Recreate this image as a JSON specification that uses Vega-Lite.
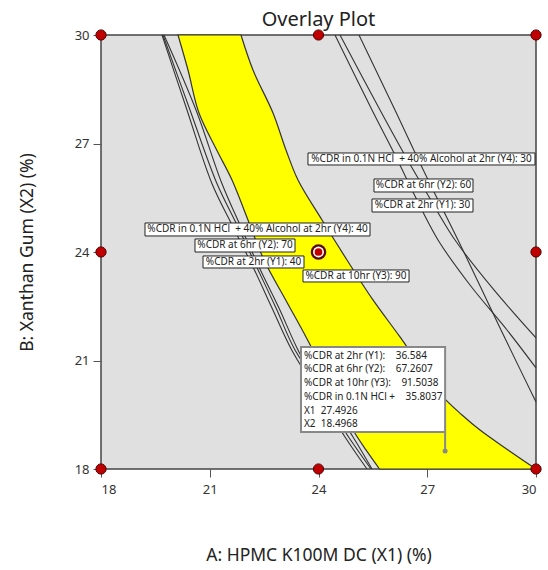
{
  "$schema": "https://vega.github.io/schema/vega-lite/v6.json",
  "width": 435,
  "height": 434,
  "autosize": {"type": "none"},
  "padding": {"left": 101, "top": 35, "right": 12, "bottom": 101},
  "background": "white",
  "title": {"text": "Overlay Plot", "fontSize": 20, "font": "Noto Sans", "fontWeight": "normal", "color": "#222", "offset": -2, "anchor": "middle"},
  "config": {
    "view": {"fill": "#e0e0e0", "stroke": "#444", "strokeWidth": 1.5},
    "font": "Noto Sans",
    "axis": {"grid": false, "domain": false, "tickColor": "#555", "tickSize": 8, "labelFontSize": 13, "labelColor": "#333", "titleFontSize": 17.5, "titleFontWeight": "normal", "titleColor": "#222", "labelFont": "Noto Sans", "titleFont": "Noto Sans"}
  },
  "datasets": {
    "region": [
      {"y": 30, "xl": 20.124, "xr": 21.862},
      {"y": 29.032, "xl": 20.4, "xr": 22.193},
      {"y": 27.843, "xl": 20.703, "xr": 22.745},
      {"y": 26.821, "xl": 21.192, "xr": 23.103},
      {"y": 25.991, "xl": 21.614, "xr": 23.434},
      {"y": 24.885, "xl": 22.055, "xr": 24.097},
      {"y": 23.779, "xl": 22.497, "xr": 24.786},
      {"y": 22.674, "xl": 23.095, "xr": 25.503},
      {"y": 21.651, "xl": 23.655, "xr": 26.248},
      {"y": 20.738, "xl": 24.124, "xr": 26.883},
      {"y": 19.992, "xl": 24.499, "xr": 27.434},
      {"y": 19.494, "xl": 24.748, "xr": 27.959},
      {"y": 19.079, "xl": 24.952, "xr": 28.455},
      {"y": 18.527, "xl": 25.31, "xr": 29.228},
      {"y": 18, "xl": 25.683, "xr": 30}
    ],
    "lines": [
      {"s": "L1", "o": 1, "x": 19.683, "y": 30},
      {"s": "L1", "o": 2, "x": 20.372, "y": 27.926},
      {"s": "L1", "o": 3, "x": 21.054, "y": 25.908},
      {"s": "L1", "o": 4, "x": 21.614, "y": 24.747},
      {"s": "L1", "o": 5, "x": 22.193, "y": 23.586},
      {"s": "L1", "o": 6, "x": 22.717, "y": 22.452},
      {"s": "L1", "o": 7, "x": 23.261, "y": 21.291},
      {"s": "L1", "o": 8, "x": 23.986, "y": 20.102},
      {"s": "L1", "o": 9, "x": 24.731, "y": 18.886},
      {"s": "L1", "o": 10, "x": 25.338, "y": 18},
      {"s": "L2", "o": 1, "x": 19.71, "y": 30},
      {"s": "L2", "o": 2, "x": 20.455, "y": 27.926},
      {"s": "L2", "o": 3, "x": 21.192, "y": 25.908},
      {"s": "L2", "o": 4, "x": 21.752, "y": 24.747},
      {"s": "L2", "o": 5, "x": 22.295, "y": 23.586},
      {"s": "L2", "o": 6, "x": 22.828, "y": 22.452},
      {"s": "L2", "o": 7, "x": 23.352, "y": 21.291},
      {"s": "L2", "o": 8, "x": 24.152, "y": 20.102},
      {"s": "L2", "o": 9, "x": 24.952, "y": 18.886},
      {"s": "L2", "o": 10, "x": 25.476, "y": 18},
      {"s": "L3", "o": 1, "x": 19.738, "y": 30},
      {"s": "L3", "o": 2, "x": 20.621, "y": 27.926},
      {"s": "L3", "o": 3, "x": 21.33, "y": 25.908},
      {"s": "L3", "o": 4, "x": 21.834, "y": 24.747},
      {"s": "L3", "o": 5, "x": 22.359, "y": 23.586},
      {"s": "L3", "o": 6, "x": 22.91, "y": 22.452},
      {"s": "L3", "o": 7, "x": 23.434, "y": 21.291},
      {"s": "L3", "o": 8, "x": 24.097, "y": 20.102},
      {"s": "L3", "o": 9, "x": 24.703, "y": 19.079},
      {"s": "L3", "o": 10, "x": 25.448, "y": 18},
      {"s": "R1", "o": 1, "x": 24.455, "y": 30},
      {"s": "R1", "o": 2, "x": 25.476, "y": 27.926},
      {"s": "R1", "o": 3, "x": 26.166, "y": 26.572},
      {"s": "R1", "o": 4, "x": 26.579, "y": 25.715},
      {"s": "R1", "o": 5, "x": 27.297, "y": 24.332},
      {"s": "R1", "o": 6, "x": 28.179, "y": 23.088},
      {"s": "R1", "o": 7, "x": 29.2, "y": 21.844},
      {"s": "R1", "o": 8, "x": 30, "y": 20.794},
      {"s": "R2", "o": 1, "x": 24.593, "y": 30},
      {"s": "R2", "o": 2, "x": 25.697, "y": 27.926},
      {"s": "R2", "o": 3, "x": 26.441, "y": 26.572},
      {"s": "R2", "o": 4, "x": 26.938, "y": 25.715},
      {"s": "R2", "o": 5, "x": 27.766, "y": 24.332},
      {"s": "R2", "o": 6, "x": 28.841, "y": 22.95},
      {"s": "R2", "o": 7, "x": 30, "y": 21.623},
      {"s": "R3", "o": 1, "x": 25.117, "y": 30},
      {"s": "R3", "o": 2, "x": 26.11, "y": 27.926},
      {"s": "R3", "o": 3, "x": 26.745, "y": 26.572},
      {"s": "R3", "o": 4, "x": 27.159, "y": 25.715},
      {"s": "R3", "o": 5, "x": 27.848, "y": 24.332},
      {"s": "R3", "o": 6, "x": 28.51, "y": 22.95},
      {"s": "R3", "o": 7, "x": 29.034, "y": 21.844},
      {"s": "R3", "o": 8, "x": 30, "y": 19.853}
    ],
    "labels": [
      {"text": "%CDR in 0.1N HCl\u00a0 + 40% Alcohol at 2hr (Y4): 30", "x1": 23.71, "x2": 29.972, "y1": 26.406, "y2": 26.738},
      {"text": "%CDR at 6hr (Y2): 60", "x1": 25.531, "x2": 28.262, "y1": 25.659, "y2": 26.019},
      {"text": "%CDR at 2hr (Y1): 30", "x1": 25.476, "x2": 28.262, "y1": 25.106, "y2": 25.466},
      {"text": "%CDR in 0.1N HCl\u00a0 + 40% Alcohol at 2hr (Y4): 40", "x1": 19.214, "x2": 25.421, "y1": 24.443, "y2": 24.802},
      {"text": "%CDR at 6hr (Y2): 70", "x1": 20.593, "x2": 23.352, "y1": 24.0, "y2": 24.36},
      {"text": "%CDR at 2hr (Y1): 40", "x1": 20.814, "x2": 23.6, "y1": 23.558, "y2": 23.89},
      {"text": "%CDR at 10hr (Y3): 90", "x1": 23.572, "x2": 26.497, "y1": 23.171, "y2": 23.503}
    ],
    "design": [
      {"x": 18, "y": 18}, {"x": 18, "y": 24}, {"x": 18, "y": 30},
      {"x": 24, "y": 18}, {"x": 24, "y": 30},
      {"x": 30, "y": 18}, {"x": 30, "y": 24}, {"x": 30, "y": 30}
    ],
    "center": [{"x": 24, "y": 24}],
    "flag": [{"x": 27.4926, "y": 18.4968, "bx1": 23.517, "bx2": 27.4926, "by1": 19.024, "by2": 21.374}],
    "flagtext": [
      {"t": "%CDR at 2hr (Y1):\u00a0\u00a0\u00a0 36.584", "x": 23.6, "y": 21.125},
      {"t": "%CDR at 6hr (Y2):\u00a0\u00a0\u00a0 67.2607", "x": 23.6, "y": 20.766},
      {"t": "%CDR at 10hr (Y3):\u00a0\u00a0\u00a0 91.5038", "x": 23.6, "y": 20.379},
      {"t": "%CDR in 0.1N HCl +\u00a0\u00a0\u00a0 35.8037", "x": 23.6, "y": 19.992},
      {"t": "X1\u00a0 27.4926", "x": 23.6, "y": 19.605},
      {"t": "X2\u00a0 18.4968", "x": 23.6, "y": 19.245}
    ]
  },
  "encoding": {
    "x": {"type": "quantitative", "scale": {"domain": [18, 30], "nice": false, "zero": false},
          "axis": {"values": [18, 21, 24, 27, 30], "title": "A: HPMC K100M DC (X1) (%)", "labelPadding": 6, "titlePadding": 50}},
    "y": {"type": "quantitative", "scale": {"domain": [18, 30], "nice": false, "zero": false},
          "axis": {"values": [18, 21, 24, 27, 30], "title": "B: Xanthan Gum (X2) (%)", "labelPadding": 4, "titlePadding": 38}}
  },
  "layer": [
    {
      "data": {"name": "region"},
      "mark": {"type": "area", "orient": "horizontal", "color": "#ffff00", "fillOpacity": 1, "stroke": "#333", "strokeWidth": 1.2, "interpolate": "catmull-rom"},
      "encoding": {"y": {"field": "y"}, "x": {"field": "xl"}, "x2": {"field": "xr"}}
    },
    {
      "data": {"name": "lines"},
      "mark": {"type": "line", "color": "#333", "strokeWidth": 1.1, "interpolate": "catmull-rom"},
      "encoding": {"x": {"field": "x"}, "y": {"field": "y"}, "detail": {"field": "s"}, "order": {"field": "o"}}
    },
    {
      "data": {"name": "labels"},
      "mark": {"type": "rect", "fill": "white", "stroke": "#222", "strokeWidth": 1},
      "encoding": {"x": {"field": "x1"}, "x2": {"field": "x2"}, "y": {"field": "y1"}, "y2": {"field": "y2"}}
    },
    {
      "data": {"name": "labels"},
      "transform": [{"calculate": "(datum.x1 + datum.x2) / 2", "as": "cx"}, {"calculate": "(datum.y1 + datum.y2) / 2", "as": "cy"}],
      "mark": {"type": "text", "fontSize": 10, "color": "#222", "align": "center", "baseline": "middle"},
      "encoding": {"x": {"field": "cx"}, "y": {"field": "cy"}, "text": {"field": "text"}}
    },
    {
      "data": {"name": "design"},
      "mark": {"type": "point", "filled": true, "fill": "#c00000", "stroke": "#500000", "strokeWidth": 1, "size": 105, "opacity": 1},
      "encoding": {"x": {"field": "x"}, "y": {"field": "y"}}
    },
    {
      "data": {"name": "center"},
      "mark": {"type": "point", "filled": true, "fill": "#5a0808", "size": 240, "opacity": 1},
      "encoding": {"x": {"field": "x"}, "y": {"field": "y"}}
    },
    {
      "data": {"name": "center"},
      "mark": {"type": "point", "filled": true, "fill": "white", "size": 120, "opacity": 1},
      "encoding": {"x": {"field": "x"}, "y": {"field": "y"}}
    },
    {
      "data": {"name": "center"},
      "mark": {"type": "point", "filled": true, "fill": "#c00000", "size": 60, "opacity": 1},
      "encoding": {"x": {"field": "x"}, "y": {"field": "y"}}
    },
    {
      "data": {"name": "flag"},
      "mark": {"type": "rule", "color": "#888", "strokeWidth": 2},
      "encoding": {"x": {"field": "x"}, "y": {"field": "y"}, "y2": {"field": "by1"}}
    },
    {
      "data": {"name": "flag"},
      "mark": {"type": "point", "filled": true, "fill": "#888", "size": 25, "opacity": 1},
      "encoding": {"x": {"field": "x"}, "y": {"field": "y"}}
    },
    {
      "data": {"name": "flag"},
      "mark": {"type": "rect", "fill": "white", "stroke": "#888", "strokeWidth": 2},
      "encoding": {"x": {"field": "bx1"}, "x2": {"field": "bx2"}, "y": {"field": "by1"}, "y2": {"field": "by2"}}
    },
    {
      "data": {"name": "flagtext"},
      "mark": {"type": "text", "fontSize": 10, "color": "#222", "align": "left", "baseline": "middle"},
      "encoding": {"x": {"field": "x"}, "y": {"field": "y"}, "text": {"field": "t"}}
    }
  ]
}
